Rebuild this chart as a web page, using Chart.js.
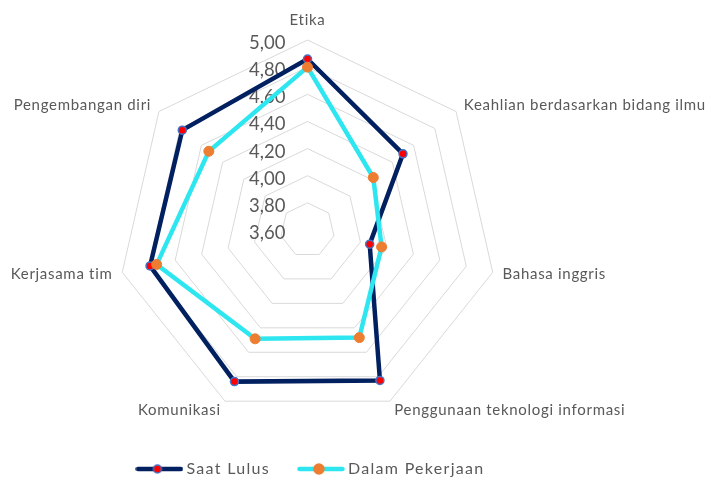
<!DOCTYPE html>
<html>
<head>
<meta charset="utf-8">
<script src="https://cdn.jsdelivr.net/npm/chart.js@4"></script>
<style>
  html, body { margin: 0; padding: 0; background: #fff; }
  #wrap { width: 709px; height: 478px; }
</style>
</head>
<body>
<div id="wrap"><canvas id="radarChart"></canvas></div>
<script>
const kompetensi = ['Etika', 'Keahlian berdasarkan bidang ilmu', 'Bahasa inggris',
    'Penggunaan teknologi informasi', 'Komunikasi', 'Kerjasama tim', 'Pengembangan diri'];
const saatLulus = [4.86, 4.50, 4.07, 4.83, 4.84, 4.79, 4.78];
const dalamPekerjaan = [4.80, 4.22, 4.16, 4.48, 4.49, 4.74, 4.53];
const skalaMin = 3.6;
const skalaMax = 5.0;
const langkah = 0.2;

const abu = '#595959';
const fontHuruf = 'Lato, "Open Sans", sans-serif';

// contoh garis + penanda untuk legenda
function contohGaris(warnaGaris, warnaIsi, warnaTepi, radius) {
    const c = document.createElement('canvas');
    c.width = 48;
    c.height = 14;
    const g = c.getContext('2d');
    g.strokeStyle = warnaGaris;
    g.lineWidth = 4.5;
    g.lineCap = 'round';
    g.beginPath();
    g.moveTo(2.5, 7);
    g.lineTo(45.5, 7);
    g.stroke();
    g.beginPath();
    g.arc(22, 7, radius, 0, Math.PI * 2);
    g.fillStyle = warnaIsi;
    g.fill();
    g.lineWidth = 1.5;
    g.strokeStyle = warnaTepi;
    g.stroke();
    return c;
}

// jarak huruf untuk teks legenda (huruf asli lebih renggang)
const jarakHuruf = {
    id: 'jarakHuruf',
    beforeUpdate(chart) {
        chart.ctx.letterSpacing = '1.3px';
    }
};

// label sumbu dan label nilai digambar sendiri
const labelRadar = {
    id: 'labelRadar',
    beforeDatasetsDraw(chart) {
        const r = chart.scales.r;
        const ctx = chart.ctx;
        ctx.save();
        ctx.fillStyle = abu;

        ctx.letterSpacing = '0px';
        ctx.font = '18.5px ' + fontHuruf;
        ctx.textAlign = 'right';
        ctx.textBaseline = 'middle';
        r.ticks.forEach(t => {
            const y = r.yCenter - r.getDistanceFromCenterForValue(t.value);
            ctx.fillText(t.value.toFixed(2).replace('.', ','), r.xCenter - 22, y + 3);
        });

        ctx.letterSpacing = '0.7px';
        ctx.font = '15px ' + fontHuruf;
        chart.data.labels.forEach((lbl, i) => {
            const sudut = r.getIndexAngle(i);
            const sin = Math.sin(sudut);
            const p = r.getPointPosition(i, r.drawingArea + (i === 0 ? 12 : 10));
            ctx.textAlign = Math.abs(sin) < 0.05 ? 'center' : (sin > 0 ? 'left' : 'right');
            ctx.textBaseline = i === 0 ? 'bottom' : 'middle';
            ctx.fillText(lbl, p.x, p.y);
        });
        ctx.restore();
    }
};

const ctx = document.getElementById('radarChart').getContext('2d');

new Chart(ctx, {
    type: 'radar',
    data: {
        labels: kompetensi,
        datasets: [{
            label: 'Saat Lulus',
            data: saatLulus,
            borderColor: '#002060',
            borderWidth: 4.5,
            borderJoinStyle: 'miter',
            pointBackgroundColor: '#FF0000',
            pointBorderColor: '#4472C4',
            pointBorderWidth: 1.5,
            pointRadius: 4,
            fill: false,
            order: 1,
            gambar: contohGaris('#002060', '#FF0000', '#4472C4', 4)
        }, {
            label: 'Dalam Pekerjaan',
            data: dalamPekerjaan,
            borderColor: '#2EE6F0',
            borderWidth: 4.5,
            borderJoinStyle: 'miter',
            pointBackgroundColor: '#ED7D31',
            pointBorderColor: '#ED7D31',
            pointBorderWidth: 1,
            pointRadius: 5,
            fill: false,
            order: 0,
            gambar: contohGaris('#2EE6F0', '#ED7D31', '#ED7D31', 5)
        }]
    },
    options: {
        responsive: true,
        maintainAspectRatio: false,
        animation: false,
        layout: { padding: { right: 84, bottom: -9 } },
        scales: {
            r: {
                min: skalaMin,
                max: skalaMax,
                ticks: { stepSize: langkah, display: false },
                grid: { color: '#D9D9D9', lineWidth: 1 },
                angleLines: { display: false },
                pointLabels: { display: false },
                afterFit(scale) {
                    scale.xCenter = 307.5;
                    scale.yCenter = 230;
                    scale.drawingArea = 190;
                }
            }
        },
        plugins: {
            tooltip: { enabled: false },
            legend: {
                position: 'bottom',
                labels: {
                    usePointStyle: true,
                    pointStyleWidth: 38,
                    padding: 32,
                    color: abu,
                    font: { family: fontHuruf, size: 16 },
                    generateLabels: chart => chart.data.datasets.map((ds, i) => ({
                        text: ds.label,
                        pointStyle: ds.gambar,
                        fontColor: abu,
                        fillStyle: 'transparent',
                        strokeStyle: 'transparent',
                        lineWidth: 0,
                        hidden: false,
                        datasetIndex: i
                    }))
                }
            }
        }
    },
    plugins: [jarakHuruf, labelRadar]
});
</script>
</body>
</html>
